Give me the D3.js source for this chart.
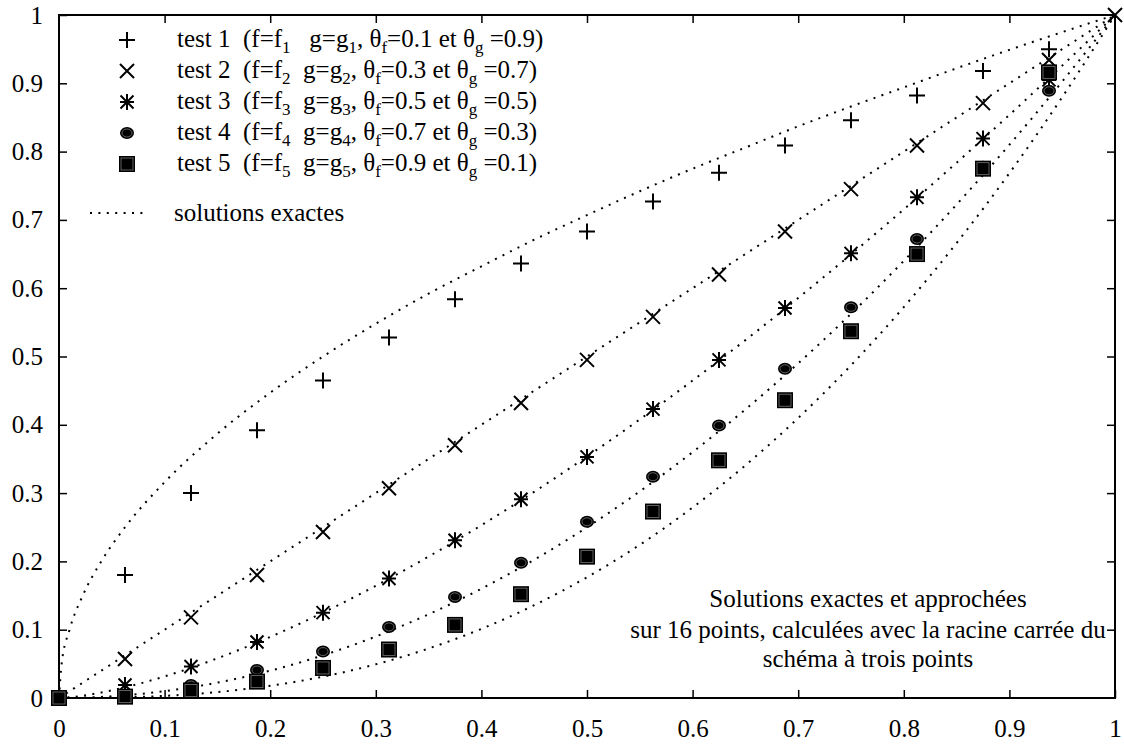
<!DOCTYPE html>
<html><head><meta charset="utf-8">
<script src="https://cdn.jsdelivr.net/npm/d3@7/dist/d3.min.js"></script>
<style>body{margin:0;background:#fff}svg{display:block}</style>
</head><body><svg id="c" width="1124" height="747"></svg>
<script>
// ---- data ----
const xPts = [0, 0.0625, 0.125, 0.1875, 0.25, 0.3125, 0.375, 0.4375, 0.5, 0.5625, 0.625, 0.6875, 0.75, 0.8125, 0.875, 0.9375, 1];
const test1 = [0, 0.180, 0.300, 0.392, 0.465, 0.528, 0.584, 0.636, 0.683, 0.727, 0.769, 0.809, 0.846, 0.882, 0.918, 0.950];
const test2 = [0, 0.057, 0.118, 0.180, 0.243, 0.307, 0.370, 0.432, 0.495, 0.558, 0.620, 0.683, 0.745, 0.809, 0.871, 0.934, 1];
const test3 = [0, 0.019, 0.046, 0.082, 0.125, 0.175, 0.231, 0.291, 0.353, 0.423, 0.495, 0.571, 0.651, 0.733, 0.819, 0.905];
const test4 = [0, 0.004, 0.019, 0.041, 0.068, 0.104, 0.148, 0.198, 0.258, 0.324, 0.399, 0.482, 0.572, 0.672, 0.778, 0.889];
const test5 = [0, 0.002, 0.011, 0.024, 0.044, 0.071, 0.107, 0.152, 0.207, 0.273, 0.348, 0.436, 0.537, 0.650, 0.775, 0.916];

// exact solutions, sampled
const xExact = [0, 0.0025, 0.01, 0.0225, 0.04, 0.0625, 0.1, 0.15, 0.2, 0.25, 0.3, 0.35, 0.4, 0.45, 0.5, 0.55, 0.6, 0.65, 0.7, 0.75, 0.8, 0.85, 0.9, 0.95, 1];
const exact1 = [0, 0.05, 0.1, 0.15, 0.2, 0.25, 0.316, 0.387, 0.447, 0.5, 0.548, 0.592, 0.632, 0.671, 0.707, 0.742, 0.775, 0.806, 0.837, 0.866, 0.894, 0.922, 0.949, 0.975, 1];
const exact2 = [0, 0.0025, 0.01, 0.0225, 0.04, 0.0625, 0.1, 0.15, 0.2, 0.25, 0.3, 0.35, 0.4, 0.45, 0.5, 0.55, 0.6, 0.65, 0.7, 0.75, 0.8, 0.85, 0.9, 0.95, 1];
const exact3 = [0, 0.0001, 0.001, 0.0034, 0.008, 0.0156, 0.0316, 0.0581, 0.0894, 0.125, 0.1643, 0.2071, 0.253, 0.3019, 0.3536, 0.4079, 0.4648, 0.524, 0.5857, 0.6495, 0.7155, 0.7837, 0.8538, 0.9259, 1];
const exact4 = [0, 0.0000063, 0.0001, 0.0005, 0.0016, 0.0039, 0.01, 0.0225, 0.04, 0.0625, 0.09, 0.1225, 0.16, 0.2025, 0.25, 0.3025, 0.36, 0.4225, 0.49, 0.5625, 0.64, 0.7225, 0.81, 0.9025, 1];
const exact5 = [0, 0, 0.00001, 0.00008, 0.00032, 0.00098, 0.00316, 0.00871, 0.01789, 0.03125, 0.0493, 0.0725, 0.1012, 0.1359, 0.1768, 0.2243, 0.2789, 0.3406, 0.41, 0.4871, 0.5724, 0.6661, 0.7684, 0.8797, 1];

const testNums = [1, 2, 3, 4, 5];
const thetaF = ["0.1", "0.3", "0.5", "0.7", "0.9"];
const thetaG = ["0.9", "0.7", "0.5", "0.3", "0.1"];
const markers = ["plus", "cross", "star", "circle", "square"];
const exactLabel = "solutions exactes";
const noteLines = ["Solutions exactes et approchées", "sur 16 points, calculées avec la racine carrée du", "schéma à trois points"];
const xTicks = [0, 0.1, 0.2, 0.3, 0.4, 0.5, 0.6, 0.7, 0.8, 0.9, 1];
const yTicks = [0, 0.1, 0.2, 0.3, 0.4, 0.5, 0.6, 0.7, 0.8, 0.9, 1];

// ---- drawing ----
const svg = d3.select("#c");
const L = 59, R = 1115, T = 15, B = 698;
const x = d3.scaleLinear().domain([0, 1]).range([L, R]);
const y = d3.scaleLinear().domain([0, 1]).range([B, T]);
const FS = 25;
const FF = "Liberation Serif";

const inner = xTicks.filter(d => d > 0 && d < 1);
const innerY = yTicks.filter(d => d > 0 && d < 1);

function styleAxis(g){
  g.attr("font-family", null).attr("font-size", null);
  g.select(".domain").remove();
  g.selectAll("line").attr("stroke","#000").attr("stroke-width",1.5);
  g.selectAll("text").style("font-size",FS+"px").style("font-family",FF).attr("fill","#000");
}
svg.append("g").attr("transform",`translate(0,${B})`).call(d3.axisBottom(x).tickValues(xTicks).tickFormat(d=>String(d)).tickSizeInner(-8).tickSizeOuter(0).tickPadding(21)).call(styleAxis);
svg.append("g").attr("transform",`translate(${L},0)`).call(d3.axisLeft(y).tickValues(yTicks).tickFormat(d=>String(d)).tickSizeInner(-8).tickSizeOuter(0).tickPadding(16)).call(styleAxis);
svg.append("g").attr("transform",`translate(0,${T})`).call(d3.axisTop(x).tickValues(inner).tickFormat("").tickSizeInner(-8).tickSizeOuter(0)).call(styleAxis);
svg.append("g").attr("transform",`translate(${R},0)`).call(d3.axisRight(y).tickValues(innerY).tickFormat("").tickSizeInner(-8).tickSizeOuter(0)).call(styleAxis);

// exact curves
const exacts = [exact1, exact2, exact3, exact4, exact5];
const line = d3.line().x((d,i)=>x(xExact[i])).y(d=>y(d)).curve(d3.curveMonotoneX);
exacts.forEach(e => {
  svg.append("path").attr("d", line(e)).attr("stroke","#000").attr("stroke-width",2)
    .attr("stroke-dasharray","2 6.4").attr("fill","none");
});

// frame
svg.append("rect").attr("x",L).attr("y",T).attr("width",R-L).attr("height",B-T).attr("fill","none").attr("stroke","#000").attr("stroke-width",2);

// markers
function drawMarker(g, type, cx, cy){
  if(type==="plus"){
    g.append("path").attr("d",`M${cx-8},${cy}H${cx+8}M${cx},${cy-8}V${cy+8}`).attr("stroke","#000").attr("stroke-width",2).attr("fill","none");
  } else if(type==="cross"){
    g.append("path").attr("d",`M${cx-7},${cy-7}L${cx+7},${cy+7}M${cx-7},${cy+7}L${cx+7},${cy-7}`).attr("stroke","#000").attr("stroke-width",2).attr("fill","none");
  } else if(type==="star"){
    g.append("path").attr("d",`M${cx-7},${cy}H${cx+7}M${cx},${cy-8}V${cy+8}M${cx-6.5},${cy-6.5}L${cx+6.5},${cy+6.5}M${cx-6.5},${cy+6.5}L${cx+6.5},${cy-6.5}`).attr("stroke","#000").attr("stroke-width",2).attr("fill","none");
  } else if(type==="circle"){
    g.append("ellipse").attr("cx",cx).attr("cy",cy).attr("rx",7).attr("ry",6).attr("fill","#000");
    g.append("ellipse").attr("cx",cx).attr("cy",cy).attr("rx",5).attr("ry",4).attr("fill","none").attr("stroke","#777").attr("stroke-width",0.8);
  } else {
    g.append("rect").attr("x",cx-8).attr("y",cy-8).attr("width",16).attr("height",16).attr("fill","#000");
    g.append("rect").attr("x",cx-6).attr("y",cy-6).attr("width",12).attr("height",12).attr("fill","none").attr("stroke","#777").attr("stroke-width",0.8);
  }
}
const tests = [test1, test2, test3, test4, test5];
tests.forEach((t, k) => {
  const g = svg.append("g");
  t.forEach((v, i) => drawMarker(g, markers[k], x(xPts[i]), y(v)));
});

function txt(parent, xx, yy, s){
  const t = parent.append("text").attr("x",xx).attr("y",yy).style("font-size",FS+"px").style("font-family",FF).attr("fill","#000");
  if (s !== null) t.text(s);
  return t;
}

// legend
const lg = svg.append("g");
const rowY = [40, 71, 102, 133, 164];
testNums.forEach((n, k) => {
  drawMarker(lg, markers[k], 127, rowY[k]);
  const bl = rowY[k] + 7;
  txt(lg, 177, bl, "test " + n);
  const t = txt(lg, 243, bl, null).style("white-space","pre");
  const sub = (s) => t.append("tspan").attr("dy",6).style("font-size","17px").text(s);
  const nor = (s) => t.append("tspan").attr("dy",-6).text(s);
  t.append("tspan").text("(f=f");
  sub(String(n)); nor((n===1?"   ":"  ") + "g=g");
  sub(String(n)); nor(", θ");
  sub("f"); nor("=" + thetaF[k] + " et θ");
  sub("g"); nor(" =" + thetaG[k] + ")");
});
lg.append("path").attr("d",`M90,213H146`).attr("stroke","#000").attr("stroke-width",2).attr("stroke-dasharray","2 6.4").attr("fill","none");
txt(lg, 174, 221, exactLabel);

// note
const noteY = [607, 638, 667];
noteLines.forEach((s,i)=>{
  txt(svg, 868, noteY[i], s).attr("text-anchor","middle");
});
</script></body></html>
